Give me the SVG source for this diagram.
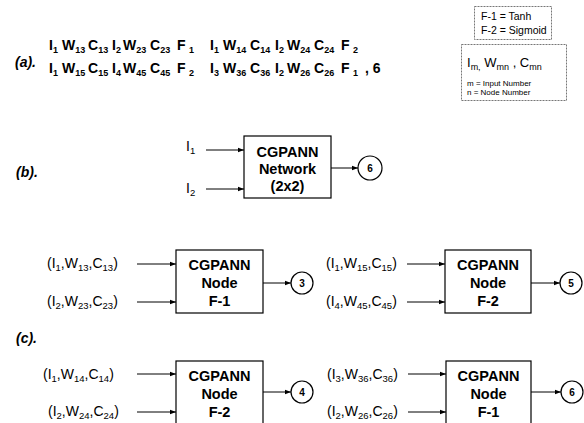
<svg xmlns="http://www.w3.org/2000/svg" width="584" height="423" viewBox="0 0 584 423">
<style>
text{font-family:"Liberation Sans",Arial,sans-serif;fill:#000}
.eq{font-size:14px;font-weight:bold}
.s{font-size:9px}
.tag{font-size:14px;font-weight:bold;font-style:italic}
.lbl{font-size:14px}
.ls{font-size:9.5px}
.nt{font-size:14.5px;font-weight:bold;text-anchor:middle}
.cn{font-size:10px;font-weight:bold;text-anchor:middle}
.box{fill:#fff;stroke:#000;stroke-width:1.2}
.dash{fill:#fff;stroke:#777;stroke-width:1;stroke-dasharray:2,1}
.ln{stroke:#000;stroke-width:1;fill:none;marker-end:url(#ah)}
.c{fill:#fff;stroke:#000;stroke-width:1.2}
</style>
<defs>
<marker id="ah" viewBox="0 0 6 6" refX="6" refY="3" markerWidth="6" markerHeight="6" markerUnits="userSpaceOnUse" orient="auto"><path d="M0,0.8 L6,3 L0,5.2 z" fill="#000"/></marker>
</defs>

<g id="part-a">
<text class="tag" x="15" y="67">(a).</text>
<text class="eq" y="50"><tspan x="49">I</tspan><tspan class="s" dy="3">1</tspan><tspan x="62" dy="-3">W</tspan><tspan class="s" dy="3">13</tspan><tspan x="88" dy="-3">C</tspan><tspan class="s" dy="3">13</tspan><tspan x="112" dy="-3">I</tspan><tspan class="s" dy="3">2</tspan><tspan x="123" dy="-3">W</tspan><tspan class="s" dy="3">23</tspan><tspan x="150" dy="-3">C</tspan><tspan class="s" dy="3">23</tspan><tspan x="177" dy="-3">F</tspan><tspan class="s" x="189" dy="3">1</tspan><tspan x="210" dy="-3">I</tspan><tspan class="s" dy="3">1</tspan><tspan x="223" dy="-3">W</tspan><tspan class="s" dy="3">14</tspan><tspan x="250" dy="-3">C</tspan><tspan class="s" dy="3">14</tspan><tspan x="275" dy="-3">I</tspan><tspan class="s" dy="3">2</tspan><tspan x="287" dy="-3">W</tspan><tspan class="s" dy="3">24</tspan><tspan x="314" dy="-3">C</tspan><tspan class="s" dy="3">24</tspan><tspan x="341" dy="-3">F</tspan><tspan class="s" x="353" dy="3">2</tspan></text>
<text class="eq" y="73"><tspan x="49">I</tspan><tspan class="s" dy="3">1</tspan><tspan x="62" dy="-3">W</tspan><tspan class="s" dy="3">15</tspan><tspan x="88" dy="-3">C</tspan><tspan class="s" dy="3">15</tspan><tspan x="112" dy="-3">I</tspan><tspan class="s" dy="3">4</tspan><tspan x="123" dy="-3">W</tspan><tspan class="s" dy="3">45</tspan><tspan x="150" dy="-3">C</tspan><tspan class="s" dy="3">45</tspan><tspan x="177" dy="-3">F</tspan><tspan class="s" x="189" dy="3">2</tspan><tspan x="210" dy="-3">I</tspan><tspan class="s" dy="3">3</tspan><tspan x="223" dy="-3">W</tspan><tspan class="s" dy="3">36</tspan><tspan x="250" dy="-3">C</tspan><tspan class="s" dy="3">36</tspan><tspan x="275" dy="-3">I</tspan><tspan class="s" dy="3">2</tspan><tspan x="287" dy="-3">W</tspan><tspan class="s" dy="3">26</tspan><tspan x="314" dy="-3">C</tspan><tspan class="s" dy="3">26</tspan><tspan x="341" dy="-3">F</tspan><tspan class="s" x="353" dy="3">1</tspan><tspan x="361" dy="-3"> , 6</tspan></text>
</g>

<g id="legend-functions">
<rect class="dash" x="474.5" y="6.5" width="77" height="33"/>
<text x="481" y="20" font-size="10.5">F-1 = Tanh</text>
<text x="481" y="34" font-size="10.5">F-2 = Sigmoid</text>
</g>
<g id="legend-notation">
<rect class="dash" x="461.5" y="44.5" width="105" height="56"/>
<text x="467" y="67" font-size="13">I<tspan font-size="9" dy="3">m,</tspan><tspan dy="-3"> W</tspan><tspan font-size="9" dy="3">mn</tspan><tspan dy="-3"> , C</tspan><tspan font-size="9" dy="3">mn</tspan></text>
<text x="467" y="86" font-size="8">m = Input Number</text>
<text x="467" y="95" font-size="8">n  = Node Number</text>
</g>

<g id="part-b-label"><text class="tag" x="16" y="177">(b).</text></g>
<g id="input-I1-b"><text class="lbl" x="186" y="151">I<tspan class="ls" dy="3">1</tspan></text></g>
<g id="input-I2-b"><text class="lbl" x="186" y="193">I<tspan class="ls" dy="3">2</tspan></text></g>
<g id="network">
<rect class="box" x="244" y="136" width="87" height="62"/>
<text class="nt" x="287.5" y="157">CGPANN</text>
<text class="nt" x="287.5" y="174">Network</text>
<text class="nt" x="287.5" y="191">(2x2)</text>
</g>
<g id="out-b"><circle class="c" cx="370" cy="168" r="12"/><text class="cn" x="370" y="172">6</text></g>

<g id="part-c-label"><text class="tag" x="16" y="343">(c).</text></g>

<g id="node3">
<rect class="box" x="176" y="250" width="87" height="63"/>
<text class="nt" x="219.5" y="270">CGPANN</text>
<text class="nt" x="219.5" y="288">Node</text>
<text class="nt" x="219.5" y="306">F-1</text>
</g>
<g id="node5">
<rect class="box" x="445" y="250" width="86" height="63"/>
<text class="nt" x="488" y="270">CGPANN</text>
<text class="nt" x="488" y="288">Node</text>
<text class="nt" x="488" y="306">F-2</text>
</g>
<g id="node4">
<rect class="box" x="176" y="361" width="87" height="64"/>
<text class="nt" x="219.5" y="381">CGPANN</text>
<text class="nt" x="219.5" y="399">Node</text>
<text class="nt" x="219.5" y="417">F-2</text>
</g>
<g id="node6">
<rect class="box" x="446" y="361" width="85" height="64"/>
<text class="nt" x="488.5" y="381">CGPANN</text>
<text class="nt" x="488.5" y="399">Node</text>
<text class="nt" x="488.5" y="417">F-1</text>
</g>

<g id="out3"><circle class="c" cx="302" cy="283" r="11"/><text class="cn" x="302" y="287">3</text></g>
<g id="out5"><circle class="c" cx="571" cy="283" r="11"/><text class="cn" x="571" y="287">5</text></g>
<g id="out4"><circle class="c" cx="302" cy="392" r="11"/><text class="cn" x="302" y="396">4</text></g>
<g id="out6"><circle class="c" cx="572" cy="392" r="11"/><text class="cn" x="572" y="396">6</text></g>

<g id="labels-c">
<text class="lbl" x="47" y="268">(I<tspan class="ls" dy="3">1</tspan><tspan dy="-3">,W</tspan><tspan class="ls" dy="3">13</tspan><tspan dy="-3">,C</tspan><tspan class="ls" dy="3">13</tspan><tspan dy="-3">)</tspan></text>
<text class="lbl" x="47" y="306">(I<tspan class="ls" dy="3">2</tspan><tspan dy="-3">,W</tspan><tspan class="ls" dy="3">23</tspan><tspan dy="-3">,C</tspan><tspan class="ls" dy="3">23</tspan><tspan dy="-3">)</tspan></text>
<text class="lbl" x="326" y="268">(I<tspan class="ls" dy="3">1</tspan><tspan dy="-3">,W</tspan><tspan class="ls" dy="3">15</tspan><tspan dy="-3">,C</tspan><tspan class="ls" dy="3">15</tspan><tspan dy="-3">)</tspan></text>
<text class="lbl" x="326" y="306">(I<tspan class="ls" dy="3">4</tspan><tspan dy="-3">,W</tspan><tspan class="ls" dy="3">45</tspan><tspan dy="-3">,C</tspan><tspan class="ls" dy="3">45</tspan><tspan dy="-3">)</tspan></text>
<text class="lbl" x="43" y="379">(I<tspan class="ls" dy="3">1</tspan><tspan dy="-3">,W</tspan><tspan class="ls" dy="3">14</tspan><tspan dy="-3">,C</tspan><tspan class="ls" dy="3">14</tspan><tspan dy="-3">)</tspan></text>
<text class="lbl" x="48" y="416">(I<tspan class="ls" dy="3">2</tspan><tspan dy="-3">,W</tspan><tspan class="ls" dy="3">24</tspan><tspan dy="-3">,C</tspan><tspan class="ls" dy="3">24</tspan><tspan dy="-3">)</tspan></text>
<text class="lbl" x="327" y="379">(I<tspan class="ls" dy="3">3</tspan><tspan dy="-3">,W</tspan><tspan class="ls" dy="3">36</tspan><tspan dy="-3">,C</tspan><tspan class="ls" dy="3">36</tspan><tspan dy="-3">)</tspan></text>
<text class="lbl" x="327" y="416">(I<tspan class="ls" dy="3">2</tspan><tspan dy="-3">,W</tspan><tspan class="ls" dy="3">26</tspan><tspan dy="-3">,C</tspan><tspan class="ls" dy="3">26</tspan><tspan dy="-3">)</tspan></text>
</g>

<g id="connectors">
<line class="ln" x1="206" y1="150" x2="244" y2="150"/>
<line class="ln" x1="206" y1="189" x2="244" y2="189"/>
<line class="ln" x1="331" y1="168" x2="358" y2="168"/>
<line class="ln" x1="137" y1="264" x2="176" y2="264"/>
<line class="ln" x1="137" y1="302" x2="176" y2="302"/>
<line class="ln" x1="263" y1="283" x2="291" y2="283"/>
<line class="ln" x1="407" y1="264" x2="445" y2="264"/>
<line class="ln" x1="407" y1="302" x2="445" y2="302"/>
<line class="ln" x1="531" y1="283" x2="560" y2="283"/>
<line class="ln" x1="137" y1="374" x2="176" y2="374"/>
<line class="ln" x1="137" y1="412" x2="176" y2="412"/>
<line class="ln" x1="263" y1="392" x2="291" y2="392"/>
<line class="ln" x1="408" y1="374" x2="446" y2="374"/>
<line class="ln" x1="408" y1="412" x2="446" y2="412"/>
<line class="ln" x1="531" y1="392" x2="561" y2="392"/>
</g>
</svg>
